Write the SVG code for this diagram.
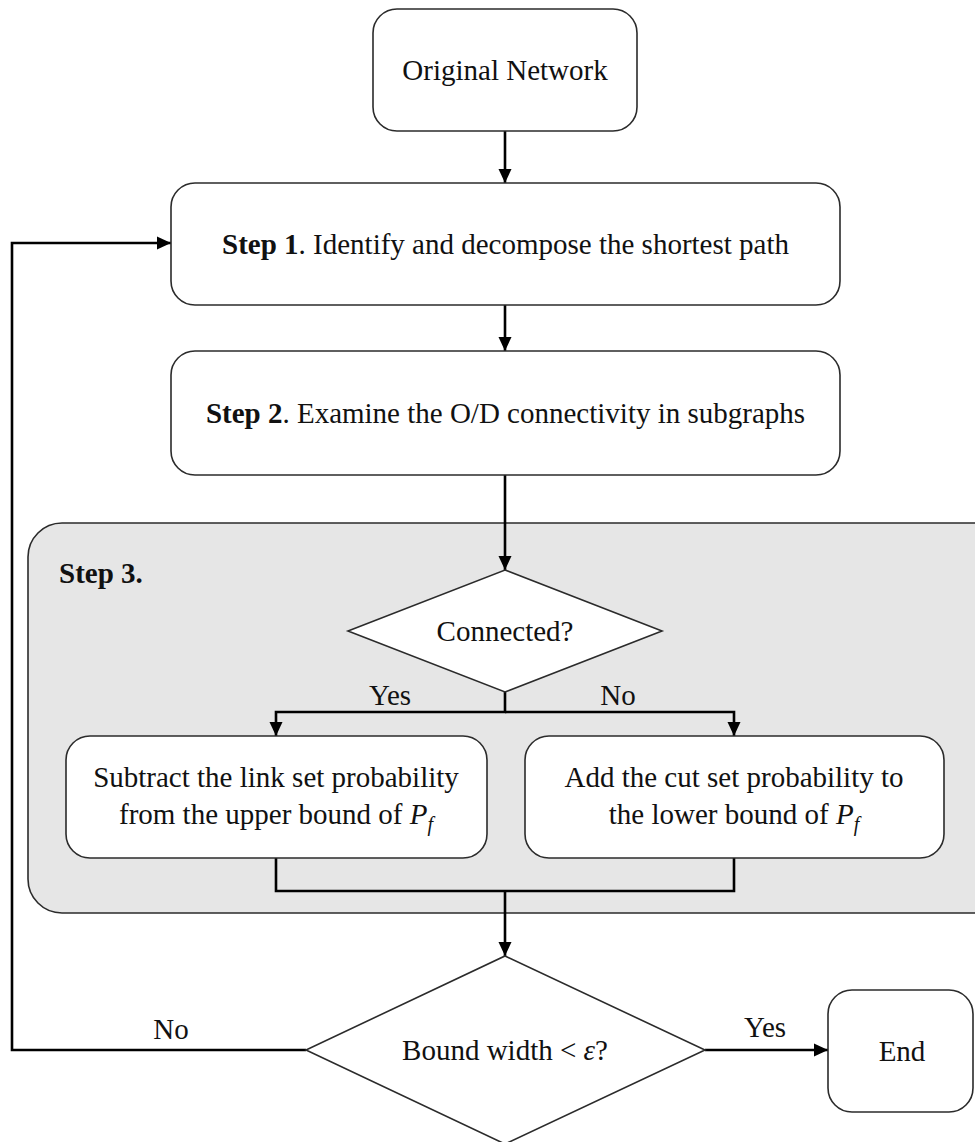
<svg xmlns="http://www.w3.org/2000/svg" width="975" height="1142" viewBox="0 0 975 1142">
  <style>
    .box { fill: #ffffff; stroke: #2b2b2b; stroke-width: 1.6; }
    .panel { fill: #e6e6e6; stroke: #2b2b2b; stroke-width: 1.6; }
    .wire { fill: none; stroke: #000000; stroke-width: 2.6; }
    .t { font-family: "Liberation Serif", "Times New Roman", serif; font-size: 29px; fill: #111111; }
    .c { text-anchor: middle; }
    .b { font-weight: bold; }
    .i { font-style: italic; }
  </style>
  <defs>
    <marker id="arrow" markerUnits="userSpaceOnUse" markerWidth="15" markerHeight="15" viewBox="0 0 15 15" refX="14" refY="7.5" orient="auto">
      <path d="M0,1 L14,7.5 L0,14 Z" fill="#000000"/>
    </marker>
  </defs>

  <!-- Step 3 panel (background) -->
  <g id="step3-panel">
    <rect class="panel" x="28" y="523" width="980" height="390" rx="34" ry="34"/>
    <text class="t b" x="59" y="583">Step 3.</text>
  </g>

  <!-- connectors -->
  <g id="connectors">
    <line class="wire" x1="505" y1="131" x2="505" y2="183" marker-end="url(#arrow)"/>
    <line class="wire" x1="505" y1="305" x2="505" y2="351" marker-end="url(#arrow)"/>
    <line class="wire" x1="505" y1="475" x2="505" y2="570" marker-end="url(#arrow)"/>
    <polyline class="wire" points="505,692 505,712 276,712 276,736" marker-end="url(#arrow)"/>
    <polyline class="wire" points="505,712 734,712 734,736" marker-end="url(#arrow)"/>
    <polyline class="wire" points="276,858 276,891 734,891 734,858"/>
    <line class="wire" x1="505" y1="891" x2="505" y2="956" marker-end="url(#arrow)"/>
    <polyline class="wire" points="306,1050 12,1050 12,243 171,243" marker-end="url(#arrow)"/>
    <line class="wire" x1="705" y1="1050" x2="828" y2="1050" marker-end="url(#arrow)"/>
    <text class="t c" x="390" y="705">Yes</text>
    <text class="t c" x="618" y="705">No</text>
    <text class="t c" x="171" y="1039">No</text>
    <text class="t c" x="765" y="1037">Yes</text>
  </g>

  <g id="original-network">
    <rect class="box" x="373" y="9" width="264" height="122" rx="24" ry="24"/>
    <text class="t c" x="505" y="80">Original Network</text>
  </g>

  <g id="step1">
    <rect class="box" x="171" y="183" width="669" height="122" rx="24" ry="24"/>
    <text class="t c" x="505.5" y="254"><tspan class="b">Step 1</tspan>. Identify and decompose the shortest path</text>
  </g>

  <g id="step2">
    <rect class="box" x="171" y="351" width="669" height="124" rx="24" ry="24"/>
    <text class="t c" x="505.5" y="423"><tspan class="b">Step 2</tspan>. Examine the O/D connectivity in subgraphs</text>
  </g>

  <g id="connected">
    <polygon class="box" points="505,570 662,631 505,692 348,631"/>
    <text class="t c" x="505" y="641">Connected?</text>
  </g>

  <g id="link-set">
    <rect class="box" x="66" y="736" width="421" height="122" rx="24" ry="24"/>
    <text class="t c" x="276" y="787">Subtract the link set probability</text>
    <text class="t c" x="276" y="824">from the upper bound of <tspan class="i">P</tspan><tspan class="i" font-size="20" dy="7">f</tspan></text>
  </g>

  <g id="cut-set">
    <rect class="box" x="525" y="736" width="419" height="122" rx="24" ry="24"/>
    <text class="t c" x="734" y="787">Add the cut set probability to</text>
    <text class="t c" x="734" y="824">the lower bound of <tspan class="i">P</tspan><tspan class="i" font-size="20" dy="7">f</tspan></text>
  </g>

  <g id="bound-width">
    <polygon class="box" points="505,956 705,1050 505,1144 306,1050"/>
    <text class="t c" x="505" y="1060">Bound width &lt; <tspan class="i">ε</tspan>?</text>
  </g>

  <g id="end">
    <rect class="box" x="828" y="990" width="145" height="122" rx="24" ry="24"/>
    <text class="t c" x="902" y="1061">End</text>
  </g>
</svg>
